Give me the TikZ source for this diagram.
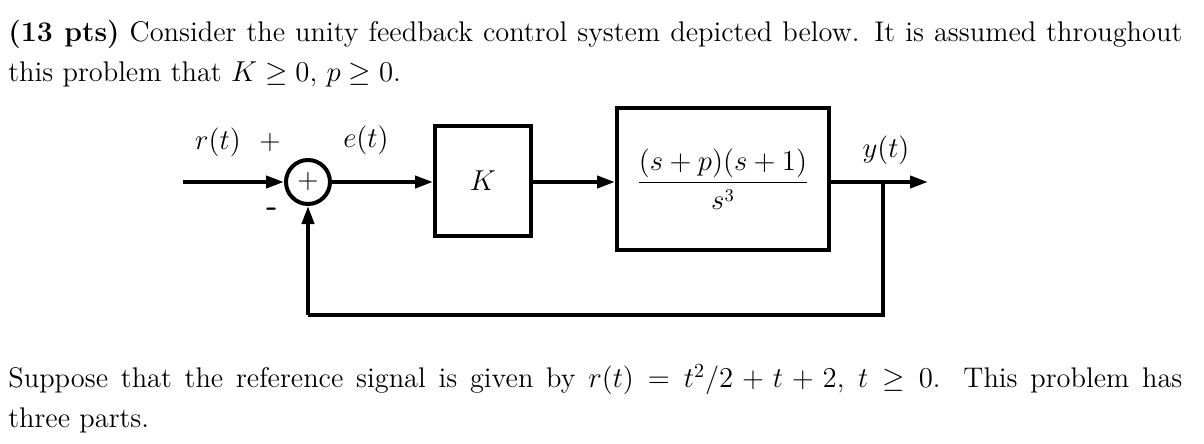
\documentclass[tikz,border=0pt]{standalone}
\usetikzlibrary{arrows.meta}
\begin{document}
\begin{tikzpicture}[x=0.5pt,y=-0.5pt,
  ln/.style={line width=2pt},
  arr/.style={ln,-{Triangle[length=9pt,width=6pt]}},
  blk/.style={draw,line width=2pt,minimum width=48pt,inner sep=0pt},
  txt/.style={anchor=north west,inner sep=0pt,text width=587pt,align=justify,font=\fontsize{14.2}{20}\selectfont},
  lbl/.style={font=\fontsize{13.4}{16}\selectfont,inner sep=0pt}]
\useasboundingbox (0,0) rectangle (1204,444);
\node[txt] (t1) at (8,20) {\textbf{(13 pts)} Consider the unity feedback control system depicted below. It is assumed throughout\linebreak this problem that $K\geq0$, $p\geq0$.};
\node[txt] (t2) at (8,364) {Suppose that the reference signal is given by $r(t)=t^2/2+t+2$, $t\geq0$. This problem has\linebreak three parts.};
\node[draw,circle,line width=2pt,minimum size=22pt,inner sep=0pt,font=\fontsize{14}{16}\sffamily] (sum) at (308,182) {+};
\node[blk,minimum width=48pt,minimum height=55pt,lbl] (k) at (483,181) {$K$};
\node[blk,minimum width=106pt,minimum height=71pt,lbl] (g) at (723,179) {$\displaystyle\frac{(s+p)(s+1)}{s^3}$};
\coordinate (in) at (183,182);
\coordinate (out) at (928,182);
\coordinate (br) at (883,182);
\coordinate (c1) at (883,315);
\coordinate (c2) at (308,315);
\draw[arr] (in) -- (sum);
\draw[arr] (sum) -- (k.west|-sum);
\draw[arr] (k.east|-sum) -- (g.west|-sum);
\draw[arr] (g.east|-out) -- (out);
\draw[ln] (br) -- (c1) -- (c2);
\draw[arr] (c2) -- (sum);
\node[lbl] (r) at (218,142) {$r(t)$};
\node[lbl,font=\fontsize{14}{16}\sffamily] (pl) at (270,143) {+};
\node[lbl] (e) at (366,140) {$e(t)$};
\node[lbl,font=\fontsize{16}{16}\sffamily\bfseries] (mi) at (272,212) {-};
\node[lbl] (y) at (886,150) {$y(t)$};
\end{tikzpicture}
\end{document}
